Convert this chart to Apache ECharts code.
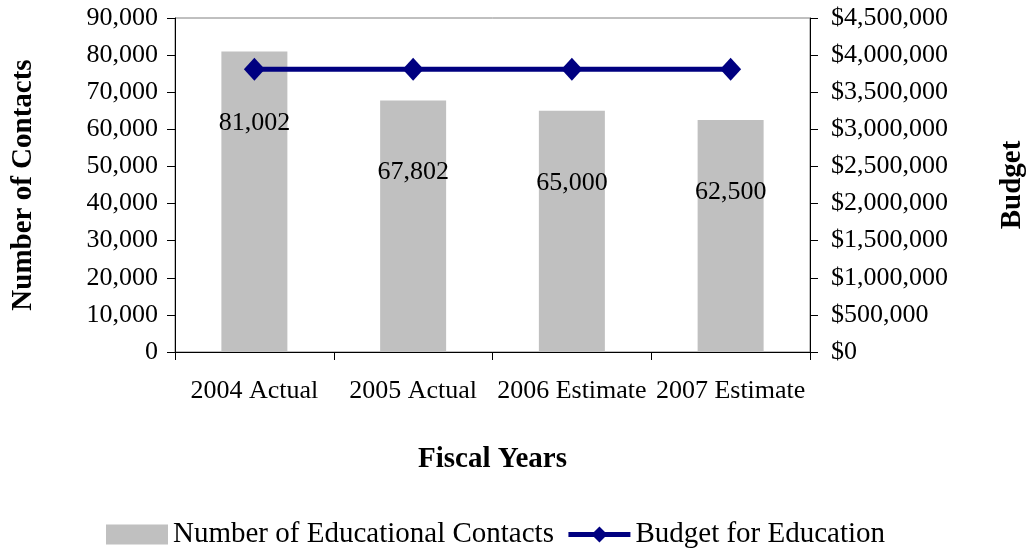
<!DOCTYPE html>
<html>
<head>
<meta charset="utf-8">
<script src="https://cdn.jsdelivr.net/npm/echarts@6/dist/echarts.min.js"></script>
<style>
  html, body { margin: 0; padding: 0; background: #fff; }
  #chart { width: 1027px; height: 550px; }
</style>
</head>
<body>
<div id="chart"></div>
<script>
// data
var years = ['2004 Actual', '2005 Actual', '2006 Estimate', '2007 Estimate'];
var contacts = [81002, 67802, 65000, 62500];
var budget = [3810000, 3810000, 3810000, 3810000];
var contactTicks = { min: 0, max: 90000, interval: 10000 };
var budgetTicks = { min: 0, max: 4500000, interval: 500000 };

var FONT = '"Liberation Serif", "Times New Roman", serif';

function commas(v) {
  return Number(v).toLocaleString('en-US');
}

var chart = echarts.init(document.getElementById('chart'));

chart.setOption({
  animation: false,
  textStyle: { fontFamily: FONT, color: '#000' },
  grid: {
    left: 175, right: 217, top: 18, bottom: 198,
    show: true, borderColor: '#808080', borderWidth: 1,
    containLabel: false,
    outerBoundsMode: 'none'
  },
  legend: {
    left: 101, top: 515,
    itemWidth: 62, itemHeight: 20, itemGap: 12,
    textStyle: { fontFamily: FONT, fontSize: 29, color: '#000' },
    data: [
      { name: 'Number of Educational Contacts', icon: 'rect' },
      { name: 'Budget for Education', lineStyle: { width: 5 } }
    ]
  },
  xAxis: {
    type: 'category',
    data: years,
    name: 'Fiscal Years',
    nameLocation: 'middle',
    nameGap: 93,
    nameTextStyle: { fontFamily: FONT, fontSize: 29, fontWeight: 'bold', color: '#000' },
    axisLine: { lineStyle: { color: '#000', width: 1 } },
    axisTick: { show: true, length: 8, lineStyle: { color: '#000' } },
    axisLabel: { fontFamily: FONT, fontSize: 26, color: '#000', margin: 26, interval: 0 },
    splitLine: { show: false }
  },
  yAxis: [{
    type: 'value',
    min: contactTicks.min, max: contactTicks.max, interval: contactTicks.interval,
    name: 'Number of Contacts',
    nameLocation: 'middle',
    nameRotate: 90,
    nameGap: 137,
    nameTextStyle: { fontFamily: FONT, fontSize: 29, fontWeight: 'bold', color: '#000' },
    axisLine: { show: true, lineStyle: { color: '#000', width: 1 } },
    axisTick: { show: true, length: 8, lineStyle: { color: '#000' } },
    axisLabel: { fontFamily: FONT, fontSize: 26, color: '#000', margin: 17, formatter: commas },
    splitLine: { show: false }
  }, {
    type: 'value',
    position: 'right',
    min: budgetTicks.min, max: budgetTicks.max, interval: budgetTicks.interval,
    name: 'Budget',
    nameLocation: 'middle',
    nameRotate: 90,
    nameGap: 188,
    nameTextStyle: { fontFamily: FONT, fontSize: 29, fontWeight: 'bold', color: '#000' },
    axisLine: { show: true, lineStyle: { color: '#000', width: 1 } },
    axisTick: { show: true, length: 8, lineStyle: { color: '#000' } },
    axisLabel: {
      fontFamily: FONT, fontSize: 26, color: '#000', margin: 21,
      formatter: function (v) { return '$' + commas(v); }
    },
    splitLine: { show: false }
  }],
  series: [{
    name: 'Number of Educational Contacts',
    type: 'bar',
    yAxisIndex: 0,
    data: contacts,
    barWidth: 66,
    itemStyle: { color: '#c0c0c0' },
    label: {
      show: true,
      position: 'insideTop',
      distance: 59,
      fontFamily: FONT, fontSize: 26, color: '#000',
      formatter: function (p) { return commas(p.value); }
    }
  }, {
    name: 'Budget for Education',
    type: 'line',
    yAxisIndex: 1,
    data: budget,
    symbol: 'diamond',
    symbolSize: [21, 23],
    lineStyle: { color: '#000080', width: 5 },
    itemStyle: { color: '#000080' },
    z: 5
  }]
});
</script>
</body>
</html>
